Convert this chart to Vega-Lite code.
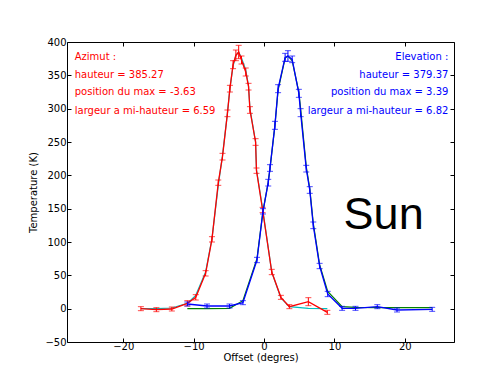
{
  "$schema": "https://vega.github.io/schema/vega-lite/v6.json",
  "width": 387,
  "height": 300,
  "autosize": {"type": "none"},
  "padding": {"left": 67, "top": 42, "right": 46, "bottom": 33},
  "background": "white",
  "config": {
    "view": {"stroke": "black", "strokeWidth": 1},
    "font": "DejaVu Sans",
    "axis": {
      "grid": false, "domain": false, "tickColor": "black", "tickSize": -4, "tickWidth": 1,
      "labelColor": "black", "labelFontSize": 10, "titleFontSize": 10, "titleFontWeight": "normal",
      "titleColor": "black", "labelFont": "DejaVu Sans", "titleFont": "DejaVu Sans"
    }
  },
  "datasets": {
    "az": [
      {"x": -17.5, "y": 0, "lo": -3, "hi": 3, "fit": 0},
      {"x": -15.3, "y": -1.5, "lo": -4.5, "hi": 1.5, "fit": 0},
      {"x": -13.1, "y": -0.5, "lo": -3.5, "hi": 2.5, "fit": 1},
      {"x": -10.9, "y": 8, "lo": 4, "hi": 12, "fit": 8},
      {"x": -9.7, "y": 17, "lo": 13, "hi": 21, "fit": 20},
      {"x": -8.3, "y": 53, "lo": 49, "hi": 57, "fit": 55},
      {"x": -7.4, "y": 104, "lo": 100, "hi": 108, "fit": 105},
      {"x": -6.5, "y": 189, "lo": 185, "hi": 193, "fit": 185},
      {"x": -5.9, "y": 228, "lo": 223, "hi": 233, "fit": 230},
      {"x": -5.2, "y": 293, "lo": 288, "hi": 298, "fit": 293},
      {"x": -4.85, "y": 330, "lo": 325, "hi": 335, "fit": 330},
      {"x": -4.4, "y": 366, "lo": 360, "hi": 372, "fit": 364},
      {"x": -4.0, "y": 380, "lo": 372, "hi": 388, "fit": 380},
      {"x": -3.6, "y": 385, "lo": 375, "hi": 395, "fit": 385},
      {"x": -3.2, "y": 373, "lo": 367, "hi": 379, "fit": 376},
      {"x": -2.6, "y": 355, "lo": 349, "hi": 361, "fit": 358},
      {"x": -2.2, "y": 333, "lo": 328, "hi": 338, "fit": 334},
      {"x": -2.0, "y": 298, "lo": 293, "hi": 303, "fit": 300},
      {"x": -1.2, "y": 250, "lo": 245, "hi": 255, "fit": 250},
      {"x": -1.07, "y": 207, "lo": 203, "hi": 211, "fit": 208},
      {"x": -0.2, "y": 148, "lo": 144, "hi": 152, "fit": 150},
      {"x": 1.1, "y": 55, "lo": 51, "hi": 59, "fit": 55},
      {"x": 2.4, "y": 17, "lo": 14, "hi": 20, "fit": 16},
      {"x": 3.6, "y": 3, "lo": 0, "hi": 6, "fit": 3},
      {"x": 6.3, "y": 10.5, "lo": 4.5, "hi": 16.5, "fit": 0.5},
      {"x": 9.0, "y": -5.5, "lo": -8.5, "hi": -2.5, "fit": 0}
    ],
    "el": [
      {"x": -10.9, "y": 7, "lo": 4, "hi": 10, "fit": 0},
      {"x": -8.1, "y": 4, "lo": 1, "hi": 7, "fit": 0},
      {"x": -4.9, "y": 4, "lo": 1, "hi": 7, "fit": 0.5},
      {"x": -3.0, "y": 9, "lo": 6, "hi": 12, "fit": 12},
      {"x": -1.0, "y": 73, "lo": 69, "hi": 77, "fit": 75},
      {"x": -0.15, "y": 146, "lo": 142, "hi": 150, "fit": 146},
      {"x": 0.6, "y": 189, "lo": 184, "hi": 194, "fit": 190},
      {"x": 0.85, "y": 211, "lo": 206, "hi": 216, "fit": 210},
      {"x": 1.55, "y": 275, "lo": 269, "hi": 281, "fit": 275},
      {"x": 2.0, "y": 330, "lo": 324, "hi": 336, "fit": 328},
      {"x": 3.0, "y": 377, "lo": 371, "hi": 383, "fit": 376},
      {"x": 3.4, "y": 379, "lo": 371, "hi": 387, "fit": 379},
      {"x": 4.0, "y": 374, "lo": 369, "hi": 379, "fit": 372},
      {"x": 4.95, "y": 323, "lo": 317, "hi": 329, "fit": 325},
      {"x": 5.2, "y": 294, "lo": 288, "hi": 300, "fit": 300},
      {"x": 6.0, "y": 210, "lo": 205, "hi": 215, "fit": 213},
      {"x": 6.5, "y": 178, "lo": 173, "hi": 183, "fit": 180},
      {"x": 7.0, "y": 125, "lo": 120, "hi": 130, "fit": 128},
      {"x": 7.9, "y": 64, "lo": 60, "hi": 68, "fit": 66},
      {"x": 9.05, "y": 22, "lo": 18, "hi": 26, "fit": 26},
      {"x": 11.1, "y": 0.5, "lo": -2.5, "hi": 3.5, "fit": 3},
      {"x": 13.0, "y": 0.5, "lo": -2.5, "hi": 3.5, "fit": 2},
      {"x": 16.1, "y": 3, "lo": 0, "hi": 6, "fit": 1.5},
      {"x": 18.9, "y": -2, "lo": -5, "hi": 1, "fit": 1.5},
      {"x": 23.9, "y": -1, "lo": -4, "hi": 2, "fit": 1.5}
    ],
    "noteAz": [
      {"x": -26.9, "y": 378, "label": "Azimut :"},
      {"x": -26.9, "y": 350.5, "label": "hauteur = 385.27"},
      {"x": -26.9, "y": 324.5, "label": "position du max = -3.63"},
      {"x": -26.9, "y": 296.5, "label": "largeur a mi-hauteur = 6.59"}
    ],
    "noteEl": [
      {"x": 26.2, "y": 378, "label": "Elevation :"},
      {"x": 26.2, "y": 350.5, "label": "hauteur = 379.37"},
      {"x": 26.2, "y": 324.5, "label": "position du max = 3.39"},
      {"x": 26.2, "y": 296.5, "label": "largeur a mi-hauteur = 6.82"}
    ],
    "noteSun": [
      {"x": 17.0, "y": 140, "label": "Sun"}
    ]
  },
  "encoding": {
    "x": {"field": "x", "type": "quantitative", "scale": {"domain": [-28, 27], "nice": false, "zero": false}, "axis": null},
    "y": {"field": "y", "type": "quantitative", "scale": {"domain": [-50, 400], "nice": false, "zero": false}, "axis": null}
  },
  "layer": [
    {
      "data": {"name": "az"},
      "mark": {"type": "line", "color": "#00bfbf", "strokeWidth": 1.2, "clip": true},
      "encoding": {
        "x": {"field": "x", "type": "quantitative", "scale": {"domain": [-28, 27], "nice": false, "zero": false},
          "axis": {"orient": "bottom", "values": [-20, -10, 0, 10, 20], "title": "Offset (degres)", "labelPadding": 3, "titlePadding": 1, "labelExpr": "replace(datum.label, '-', '\u2212')"}},
        "y": {"field": "fit", "type": "quantitative", "scale": {"domain": [-50, 400], "nice": false, "zero": false},
          "axis": {"orient": "left", "values": [-50, 0, 50, 100, 150, 200, 250, 300, 350, 400], "title": "Temperature (K)", "labelPadding": 5, "titlePadding": 6, "labelExpr": "replace(datum.label, '-', '\u2212')"}}
      }
    },
    {
      "data": {"name": "el"},
      "mark": {"type": "line", "color": "#008000", "strokeWidth": 1.2, "clip": true},
      "encoding": {
        "x": {"field": "x", "type": "quantitative", "scale": {"domain": [-28, 27], "nice": false, "zero": false},
          "axis": {"orient": "top", "values": [-20, -10, 0, 10, 20], "labels": false, "title": null}},
        "y": {"field": "fit", "type": "quantitative", "scale": {"domain": [-50, 400], "nice": false, "zero": false},
          "axis": {"orient": "right", "values": [-50, 0, 50, 100, 150, 200, 250, 300, 350, 400], "labels": false, "title": null}}
      }
    },
    {
      "data": {"name": "az"},
      "mark": {"type": "line", "color": "#ff0000", "strokeWidth": 1.3, "clip": true}
    },
    {
      "data": {"name": "az"},
      "mark": {"type": "rule", "color": "#ff0000", "strokeWidth": 1},
      "encoding": {
        "y": {"field": "lo", "type": "quantitative", "scale": {"domain": [-50, 400], "nice": false, "zero": false}, "axis": null},
        "y2": {"field": "hi"}
      }
    },
    {
      "data": {"name": "az"},
      "mark": {"type": "tick", "color": "#ff0000", "orient": "horizontal", "size": 6, "thickness": 1},
      "encoding": {
        "y": {"field": "lo", "type": "quantitative", "scale": {"domain": [-50, 400], "nice": false, "zero": false}, "axis": null}
      }
    },
    {
      "data": {"name": "az"},
      "mark": {"type": "tick", "color": "#ff0000", "orient": "horizontal", "size": 6, "thickness": 1},
      "encoding": {
        "y": {"field": "hi", "type": "quantitative", "scale": {"domain": [-50, 400], "nice": false, "zero": false}, "axis": null}
      }
    },
    {
      "data": {"name": "el"},
      "mark": {"type": "line", "color": "#0000ff", "strokeWidth": 1.3, "clip": true}
    },
    {
      "data": {"name": "el"},
      "mark": {"type": "rule", "color": "#0000ff", "strokeWidth": 1},
      "encoding": {
        "y": {"field": "lo", "type": "quantitative", "scale": {"domain": [-50, 400], "nice": false, "zero": false}, "axis": null},
        "y2": {"field": "hi"}
      }
    },
    {
      "data": {"name": "el"},
      "mark": {"type": "tick", "color": "#0000ff", "orient": "horizontal", "size": 6, "thickness": 1},
      "encoding": {
        "y": {"field": "lo", "type": "quantitative", "scale": {"domain": [-50, 400], "nice": false, "zero": false}, "axis": null}
      }
    },
    {
      "data": {"name": "el"},
      "mark": {"type": "tick", "color": "#0000ff", "orient": "horizontal", "size": 6, "thickness": 1},
      "encoding": {
        "y": {"field": "hi", "type": "quantitative", "scale": {"domain": [-50, 400], "nice": false, "zero": false}, "axis": null}
      }
    },
    {
      "data": {"name": "noteAz"},
      "mark": {"type": "text", "color": "#ff0000", "align": "left", "baseline": "middle", "fontSize": 10, "font": "DejaVu Sans"},
      "encoding": {"text": {"field": "label"}}
    },
    {
      "data": {"name": "noteEl"},
      "mark": {"type": "text", "color": "#0000ff", "align": "right", "baseline": "middle", "fontSize": 10, "font": "DejaVu Sans"},
      "encoding": {"text": {"field": "label"}}
    },
    {
      "data": {"name": "noteSun"},
      "mark": {"type": "text", "color": "black", "align": "center", "baseline": "middle", "fontSize": 45, "font": "Liberation Sans"},
      "encoding": {"text": {"field": "label"}}
    }
  ],
  "resolve": {"axis": {"x": "independent", "y": "independent"}}
}
